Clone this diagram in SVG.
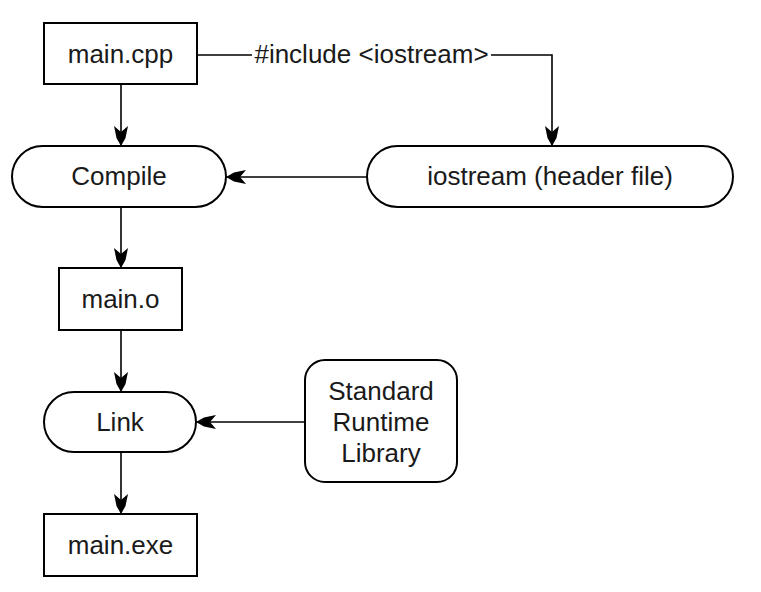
<svg xmlns="http://www.w3.org/2000/svg" width="761" height="592" viewBox="0 0 761 592">
<style>
.box{fill:#fff;stroke:#000;stroke-width:2}
.lbl{font-family:"Liberation Sans",Arial,sans-serif;font-size:26px;fill:#1a1a1a;text-anchor:middle}
.edge{fill:none;stroke:#000;stroke-width:1.6}
</style>
<defs>
<marker id="ah" markerUnits="userSpaceOnUse" viewBox="-21 -8 22 16" refX="0" refY="0" markerWidth="22" markerHeight="16" orient="auto">
<path d="M0,0 L-8,-4.5 L-20,-7 L-14,0 L-20,7 L-8,4.5 Z" fill="#000"/>
</marker>
</defs>
<rect width="761" height="592" fill="#fff"/>
<g id="connectors">
<path class="edge" d="M121,84 V146" marker-end="url(#ah)"/>
<path class="edge" d="M197,55 H252 M491,55 H552 V146" marker-end="url(#ah)"/>
<text class="lbl" x="371.5" y="63">#include &lt;iostream&gt;</text>
<path class="edge" d="M367,177 H226" marker-end="url(#ah)"/>
<path class="edge" d="M121,207 V268" marker-end="url(#ah)"/>
<path class="edge" d="M121,330 V392" marker-end="url(#ah)"/>
<path class="edge" d="M305,422 H196" marker-end="url(#ah)"/>
<path class="edge" d="M121,452 V514" marker-end="url(#ah)"/>
</g>
<g id="main_cpp">
<rect class="box" x="44" y="23" width="153" height="61"/>
<text class="lbl" x="120.5" y="63">main.cpp</text>
</g>
<g id="compile">
<rect class="box" x="12" y="146" width="214" height="61" rx="30.5" ry="30.5"/>
<text class="lbl" x="119" y="185">Compile</text>
</g>
<g id="iostream">
<rect class="box" x="367" y="146" width="366" height="61" rx="30.5" ry="30.5"/>
<text class="lbl" x="550" y="185">iostream (header file)</text>
</g>
<g id="main_o">
<rect class="box" x="59" y="268" width="123" height="62"/>
<text class="lbl" x="120.5" y="308">main.o</text>
</g>
<g id="link">
<rect class="box" x="44" y="392" width="152" height="60" rx="30" ry="30"/>
<text class="lbl" x="120" y="431">Link</text>
</g>
<g id="stdlib">
<rect class="box" x="305" y="360" width="152" height="122" rx="20" ry="20"/>
<text class="lbl" x="381" y="400">Standard</text>
<text class="lbl" x="381" y="431">Runtime</text>
<text class="lbl" x="381" y="462">Library</text>
</g>
<g id="main_exe">
<rect class="box" x="44" y="514" width="153" height="62"/>
<text class="lbl" x="120.5" y="554">main.exe</text>
</g>
</svg>
